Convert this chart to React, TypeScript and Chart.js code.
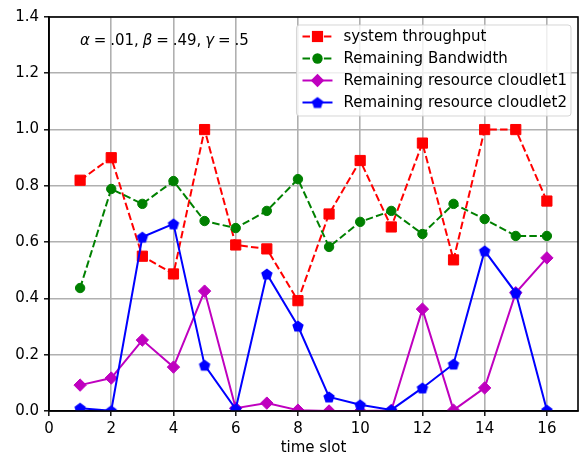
import React, { useEffect, useRef } from 'react';
import { Chart, registerables } from 'chart.js';

Chart.register(...registerables);

// ---------------- data ----------------
const timeSlots = [1, 2, 3, 4, 5, 6, 7, 8, 9, 10, 11, 12, 13, 14, 15, 16];
const throughput = [0.82, 0.9, 0.55, 0.487, 1.0, 0.59, 0.576, 0.392, 0.7, 0.89, 0.654, 0.952, 0.537, 1.0, 1.0, 0.746];
const bandwidth = [0.437, 0.789, 0.736, 0.817, 0.675, 0.65, 0.711, 0.824, 0.583, 0.672, 0.711, 0.629, 0.736, 0.682, 0.622, 0.622];
const cloudlet1 = [0.092, 0.117, 0.252, 0.156, 0.426, 0.01, 0.028, 0.003, 0.0, 0.0, 0.002, 0.362, 0.003, 0.082, 0.42, 0.544];
const cloudlet2 = [0.01, 0.001, 0.618, 0.665, 0.163, 0.007, 0.487, 0.302, 0.05, 0.022, 0.004, 0.082, 0.167, 0.569, 0.42, 0.003];
const xTicks = [0, 2, 4, 6, 8, 10, 12, 14, 16];
const yTicks = [0, 0.2, 0.4, 0.6, 0.8, 1.0, 1.2, 1.4];
const seriesLabels = [
  'system throughput',
  'Remaining Bandwidth',
  'Remaining resource cloudlet1',
  'Remaining resource cloudlet2',
];
// annotation "α = .01, β = .49, γ = .5" as [text, italic, gap after]
const annotationParts: [string, boolean, boolean][] = [
  ['α', true, true], ['=', false, true], ['.01,', false, true],
  ['β', true, true], ['=', false, true], ['.49,', false, true],
  ['γ', true, true], ['=', false, true], ['.5', false, false],
];
const xTitle = 'time slot';

const FONT = '"DejaVu Sans", sans-serif';
const FS = 15;

function makePentagon(color: string, r: number): HTMLCanvasElement {
  const size = Math.ceil(2 * r + 2);
  const c = document.createElement('canvas');
  c.width = size;
  c.height = size;
  const g = c.getContext('2d')!;
  const cx = size / 2;
  const cy = size / 2 + r * 0.1;
  g.beginPath();
  for (let i = 0; i < 5; i++) {
    const a = -Math.PI / 2 + (i * 2 * Math.PI) / 5;
    const px = cx + r * Math.cos(a);
    const py = cy + r * Math.sin(a);
    if (i === 0) g.moveTo(px, py);
    else g.lineTo(px, py);
  }
  g.closePath();
  g.fillStyle = color;
  g.fill();
  return c;
}

type Marker = { kind: string; color: string; r: number; dash: number[]; img?: HTMLCanvasElement };

function drawMarker(ctx: CanvasRenderingContext2D, m: Marker, x: number, y: number) {
  ctx.save();
  ctx.fillStyle = m.color;
  ctx.beginPath();
  if (m.kind === 'rect') {
    const s = Math.SQRT1_2 * m.r + 0.5;
    ctx.rect(x - s, y - s, 2 * s, 2 * s);
    ctx.fill();
  } else if (m.kind === 'circle') {
    ctx.arc(x, y, m.r + 0.5, 0, Math.PI * 2);
    ctx.fill();
  } else if (m.kind === 'rectRot') {
    const r = m.r + 0.5;
    ctx.moveTo(x - r, y);
    ctx.lineTo(x, y - r);
    ctx.lineTo(x + r, y);
    ctx.lineTo(x, y + r);
    ctx.closePath();
    ctx.fill();
  } else if (m.img) {
    ctx.drawImage(m.img, x - m.img.width / 2, y - m.img.height / 2);
  }
  ctx.restore();
}

export default function App() {
  const ref = useRef<HTMLCanvasElement | null>(null);

  useEffect(() => {
    if (!ref.current) return;
    const red = '#ff0000';
    const green = '#008000';
    const magenta = '#bf00bf';
    const blue = '#0000ff';
    const dash = [7.5, 3.2];
    const pent = makePentagon(blue, 6);
    const markers: Marker[] = [
      { kind: 'rect', color: red, r: 7.2, dash },
      { kind: 'circle', color: green, r: 4.7, dash },
      { kind: 'rectRot', color: magenta, r: 6.2, dash: [] },
      { kind: 'img', color: blue, r: 6, dash: [], img: pent },
    ];
    const colors = [red, green, magenta, blue];
    const series = [throughput, bandwidth, cloudlet1, cloudlet2];

    const datasets = series.map((vals, i) => ({
      label: seriesLabels[i],
      data: timeSlots.map((t, j) => ({ x: t, y: vals[j] })),
      borderColor: colors[i],
      backgroundColor: colors[i],
      borderWidth: 2,
      borderDash: markers[i].dash,
      pointStyle: (markers[i].kind === 'img' ? pent : markers[i].kind) as any,
      pointRadius: markers[i].r,
      pointHoverRadius: markers[i].r,
      pointBorderWidth: 1,
      pointBorderColor: colors[i],
      pointBackgroundColor: colors[i],
      tension: 0,
      clip: 0,
      order: 3 - i,
    }));

    const framePlugin = {
      id: 'frameLegend',
      afterDraw(chart: any) {
        const ctx: CanvasRenderingContext2D = chart.ctx;
        const a = chart.chartArea;
        ctx.save();
        // frame (spines)
        ctx.strokeStyle = '#000';
        ctx.lineWidth = 1.6;
        ctx.setLineDash([]);
        ctx.strokeRect(a.left, a.top, a.right - a.left, a.bottom - a.top);

        // annotation
        ctx.fillStyle = '#000';
        ctx.textBaseline = 'alphabetic';
        let tx = a.left + 31;
        const ty = a.top + 28;
        const gap = 3.9;
        for (const [txt, it, g] of annotationParts) {
          ctx.font = `${it ? 'italic ' : ''}${FS}px ${FONT}`;
          ctx.fillText(txt, tx, ty);
          tx += ctx.measureText(txt).width + (g ? gap : 0);
        }

        // legend
        ctx.font = `${FS}px ${FONT}`;
        let maxW = 0;
        for (const l of seriesLabels) maxW = Math.max(maxW, ctx.measureText(l).width);
        const bw = 47 + maxW + 4;
        const bh = 91;
        const bx = a.right - 7 - bw;
        const by = a.top + 8;
        const rad = 3;
        ctx.beginPath();
        ctx.moveTo(bx + rad, by);
        ctx.lineTo(bx + bw - rad, by);
        ctx.arcTo(bx + bw, by, bx + bw, by + rad, rad);
        ctx.lineTo(bx + bw, by + bh - rad);
        ctx.arcTo(bx + bw, by + bh, bx + bw - rad, by + bh, rad);
        ctx.lineTo(bx + rad, by + bh);
        ctx.arcTo(bx, by + bh, bx, by + bh - rad, rad);
        ctx.lineTo(bx, by + rad);
        ctx.arcTo(bx, by, bx + rad, by, rad);
        ctx.closePath();
        ctx.fillStyle = 'rgba(255,255,255,0.8)';
        ctx.fill();
        ctx.strokeStyle = 'rgba(204,204,204,0.8)';
        ctx.lineWidth = 1;
        ctx.stroke();

        for (let i = 0; i < seriesLabels.length; i++) {
          const ry = by + 11.5 + i * 22;
          const lx0 = bx + 6;
          const lx1 = bx + 36;
          ctx.beginPath();
          ctx.strokeStyle = colors[i];
          ctx.lineWidth = 2;
          ctx.setLineDash(markers[i].dash);
          ctx.moveTo(lx0, ry);
          ctx.lineTo(lx1, ry);
          ctx.stroke();
          ctx.setLineDash([]);
          drawMarker(ctx, markers[i], (lx0 + lx1) / 2, ry);
          ctx.fillStyle = '#000';
          ctx.font = `${FS}px ${FONT}`;
          ctx.textBaseline = 'middle';
          ctx.fillText(seriesLabels[i], bx + 47, ry + 1);
        }
        ctx.restore();
      },
    };

    const chart = new Chart(ref.current, {
      type: 'line',
      data: { datasets: datasets as any },
      options: {
        animation: false,
        responsive: false,
        devicePixelRatio: 1,
        layout: { autoPadding: false, padding: { top: 17, right: 1, left: 0, bottom: 0 } },
        plugins: {
          legend: { display: false },
          tooltip: { enabled: false },
          title: { display: false },
        },
        scales: {
          x: {
            type: 'linear',
            min: 0,
            max: 17,
            afterBuildTicks: (s: any) => {
              s.ticks = xTicks.map((v) => ({ value: v }));
            },
            afterFit: (s: any) => {
              s.height = 46;
              s.paddingLeft = 0;
              s.paddingRight = 0;
            },
            ticks: {
              color: '#000',
              font: { family: FONT, size: FS },
              padding: 4,
              maxRotation: 0,
              callback: (v: any) => String(v),
            },
            grid: {
              color: '#b0b0b0',
              lineWidth: 1.6,
              tickColor: '#000',
              tickLength: 5,
              tickWidth: 1.4,
            },
            border: { display: true, color: '#000', width: 1.6 },
            title: {
              display: true,
              text: xTitle,
              color: '#000',
              font: { family: FONT, size: FS },
              padding: { top: 0, bottom: 0 },
            },
          },
          y: {
            type: 'linear',
            min: 0,
            max: 1.4,
            afterBuildTicks: (s: any) => {
              s.ticks = yTicks.map((v) => ({ value: v }));
            },
            afterFit: (s: any) => {
              s.width = 49;
              s.paddingTop = 0;
              s.paddingBottom = 0;
            },
            ticks: {
              color: '#000',
              font: { family: FONT, size: FS },
              padding: 5,
              callback: (v: any) => Number(v).toFixed(1),
            },
            grid: {
              color: '#b0b0b0',
              lineWidth: 1.6,
              tickColor: '#000',
              tickLength: 5,
              tickWidth: 1.4,
            },
            border: { display: true, color: '#000', width: 1.6 },
          },
        },
      },
      plugins: [framePlugin],
    });
    return () => chart.destroy();
  }, []);

  return (
    <div style={{ position: 'absolute', left: 0, top: 0, width: 579, height: 457, background: '#fff' }}>
      <canvas ref={ref} width={579} height={457} style={{ display: 'block', width: 579, height: 457 }} />
    </div>
  );
}
